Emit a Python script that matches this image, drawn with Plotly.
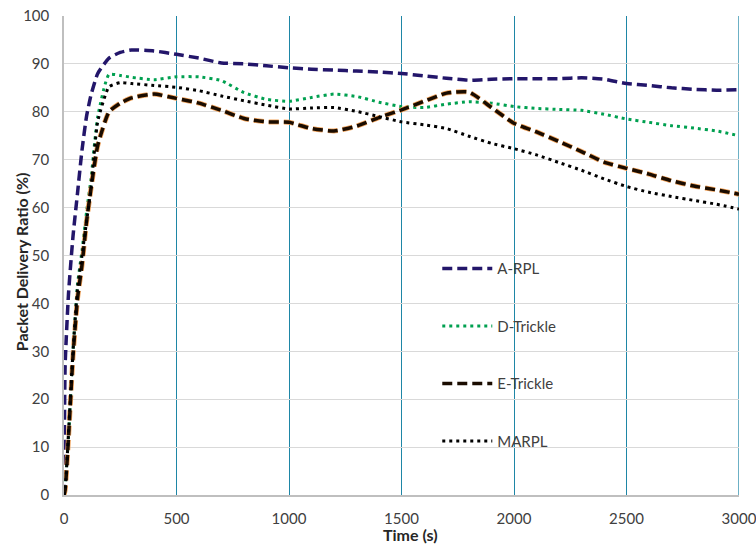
import plotly.graph_objects as go

time_s = [0, 5, 20, 40, 60, 80, 100, 120, 150, 200, 250, 300, 400, 500, 600, 700, 800, 900,
          1000, 1100, 1200, 1300, 1400, 1500, 1600, 1700, 1800, 1900, 2000, 2100, 2200, 2300,
          2400, 2500, 2600, 2700, 2800, 2900, 3000]

a_rpl = [0, 27, 42, 54, 63, 72, 79, 83.5, 88, 91.2, 92.4, 92.9, 92.7, 92.0, 91.2, 90.2, 90.0, 89.6,
         89.2, 88.9, 88.7, 88.5, 88.3, 88.0, 87.5, 87.0, 86.6, 86.8, 86.9, 86.9, 86.9, 87.1,
         86.8, 85.9, 85.5, 85.0, 84.7, 84.5, 84.6]

d_trickle = [0, 2, 12, 30, 44, 51, 59, 66, 79, 87.8, 87.6, 87.2, 86.7, 87.3, 87.3, 86.5, 84.0, 82.6,
             82.2, 83.0, 83.7, 83.2, 82.0, 81.1, 80.9, 81.6, 82.1, 81.8, 81.1, 80.7, 80.5, 80.3,
             79.5, 78.5, 77.8, 77.1, 76.6, 76.0, 75.0]

e_trickle = [0, 1, 12, 29, 41, 48, 57, 64, 73, 80, 81.8, 82.9, 83.7, 82.8, 81.8, 80.3, 78.6, 77.9,
             77.8, 76.5, 76.0, 77.0, 78.8, 80.4, 82.2, 83.9, 84.1, 80.9, 77.6, 75.8, 73.8, 71.7,
             69.5, 68.2, 67.0, 65.6, 64.5, 63.7, 62.8]

marpl = [0, 1, 13, 30, 43, 50, 57, 64, 78, 85.2, 86.1, 85.9, 85.5, 85.1, 84.4, 83.3, 82.3, 81.4,
         80.6, 80.8, 80.9, 80.1, 79.0, 77.9, 77.3, 76.5, 74.9, 73.4, 72.3, 71.0, 69.4, 67.8,
         66.0, 64.4, 63.2, 62.3, 61.5, 60.7, 59.7]

x_ticks = [0, 500, 1000, 1500, 2000, 2500, 3000]
y_ticks = [0, 10, 20, 30, 40, 50, 60, 70, 80, 90, 100]

FONT = "Lato"
GRID_TEAL = "#1e86a6"
fig = go.Figure()

shape = dict(shape="spline", smoothing=0.5)

fig.add_trace(go.Scatter(x=time_s, y=a_rpl, mode="lines", name="A-RPL", legendgroup="a",
                         line=dict(color="#23166a", width=3.5, dash="10px,5px", **shape)))
fig.add_trace(go.Scatter(x=time_s, y=d_trickle, mode="lines", name="D-Trickle", legendgroup="d",
                         line=dict(color="#00a050", width=3, dash="3px,4px", **shape)))
fig.add_trace(go.Scatter(x=time_s, y=e_trickle, mode="lines", name="E-Trickle", legendgroup="e",
                         showlegend=False, hoverinfo="skip",
                         line=dict(color="#f2a35a", width=5, dash="10px,5px", **shape)))
fig.add_trace(go.Scatter(x=time_s, y=e_trickle, mode="lines", name="E-Trickle", legendgroup="e",
                         line=dict(color="#1a0c00", width=3.5, dash="10px,5px", **shape)))
fig.add_trace(go.Scatter(x=time_s, y=marpl, mode="lines", name="MARPL", legendgroup="m",
                         line=dict(color="#000000", width=3, dash="3px,4px", **shape)))

x_max = x_ticks[-1]

fig.update_layout(
    width=756, height=546,
    margin=dict(l=64, r=17, t=16, b=51),
    paper_bgcolor="white", plot_bgcolor="white",
    font=dict(family=FONT, size=15, color="#404040"),
    showlegend=True,
    legend=dict(x=0.553, y=0.507, xanchor="left", yanchor="top",
                bgcolor="rgba(0,0,0,0)", tracegroupgap=35, itemwidth=50,
                font=dict(family=FONT, size=15, color="#404040")),
    xaxis=dict(range=[0, x_max], tickvals=x_ticks, ticktext=[str(v) for v in x_ticks],
               showgrid=True, gridcolor=GRID_TEAL, gridwidth=1.3, zeroline=False,
               showline=True, linecolor="#bfbfbf", linewidth=1.5, ticks="",
               ticklabelstandoff=9, ticklabeloverflow="allow", automargin=False),
    yaxis=dict(range=[0, 100], tickvals=y_ticks, ticktext=[str(v) for v in y_ticks],
               showgrid=True, gridcolor="#d9d9d9", gridwidth=1.3, zeroline=False,
               showline=True, linecolor="#bfbfbf", linewidth=1.5, ticks="",
               ticklabelstandoff=10, automargin=False),
    shapes=[dict(type="line", xref="x", yref="paper", x0=x_max, x1=x_max, y0=0, y1=1,
                 line=dict(color=GRID_TEAL, width=1.3), layer="below")],
    annotations=[
        dict(text="<b>Time (s)</b>", xref="paper", yref="paper", x=0.5126, y=-0.0825,
             xanchor="center", yanchor="middle", showarrow=False,
             font=dict(family=FONT, size=16, color="#262626")),
        dict(text="<b>Packet Delivery Ratio (%)</b>", xref="paper", yref="paper",
             x=-0.0637, y=0.486, textangle=-90, xanchor="center", yanchor="middle",
             showarrow=False, font=dict(family=FONT, size=16, color="#262626")),
    ],
)

fig.write_html("out.html")
